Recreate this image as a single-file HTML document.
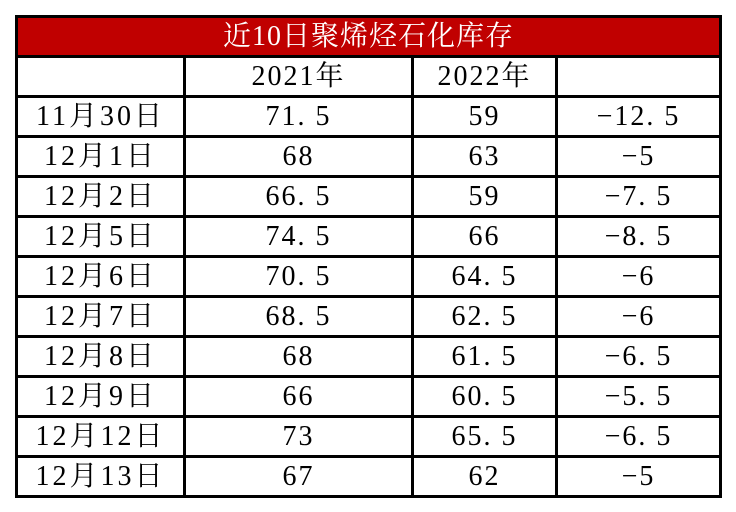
<!DOCTYPE html>
<html><head><meta charset="utf-8"><style>
body{margin:0;background:#fff;width:736px;height:512px;overflow:hidden}
table{position:absolute;left:15px;top:15px;border-collapse:collapse;table-layout:fixed;
font-family:"Liberation Serif","Noto Serif CJK SC",serif;font-size:28px;color:#000}
tr{height:40px}
td{border:3px solid #000;height:37px;padding:0;text-align:center;letter-spacing:2px;line-height:37px;box-sizing:border-box}
td.d{letter-spacing:3px}
td.t{background:#c00000;color:#fff;letter-spacing:1px}
</style></head><body>
<table>
<colgroup><col style="width:168px"><col style="width:228px"><col style="width:144px"><col style="width:164px"></colgroup>
<tr><td class="t" colspan="4">近10日聚烯烃石化库存</td></tr>
<tr><td></td><td>2021年</td><td>2022年</td><td></td></tr>
<tr><td class="d">11月30日</td><td>71. 5</td><td>59</td><td>−12. 5</td></tr>
<tr><td class="d">12月1日</td><td>68</td><td>63</td><td>−5</td></tr>
<tr><td class="d">12月2日</td><td>66. 5</td><td>59</td><td>−7. 5</td></tr>
<tr><td class="d">12月5日</td><td>74. 5</td><td>66</td><td>−8. 5</td></tr>
<tr><td class="d">12月6日</td><td>70. 5</td><td>64. 5</td><td>−6</td></tr>
<tr><td class="d">12月7日</td><td>68. 5</td><td>62. 5</td><td>−6</td></tr>
<tr><td class="d">12月8日</td><td>68</td><td>61. 5</td><td>−6. 5</td></tr>
<tr><td class="d">12月9日</td><td>66</td><td>60. 5</td><td>−5. 5</td></tr>
<tr><td class="d">12月12日</td><td>73</td><td>65. 5</td><td>−6. 5</td></tr>
<tr><td class="d">12月13日</td><td>67</td><td>62</td><td>−5</td></tr>
</table>
</body></html>
